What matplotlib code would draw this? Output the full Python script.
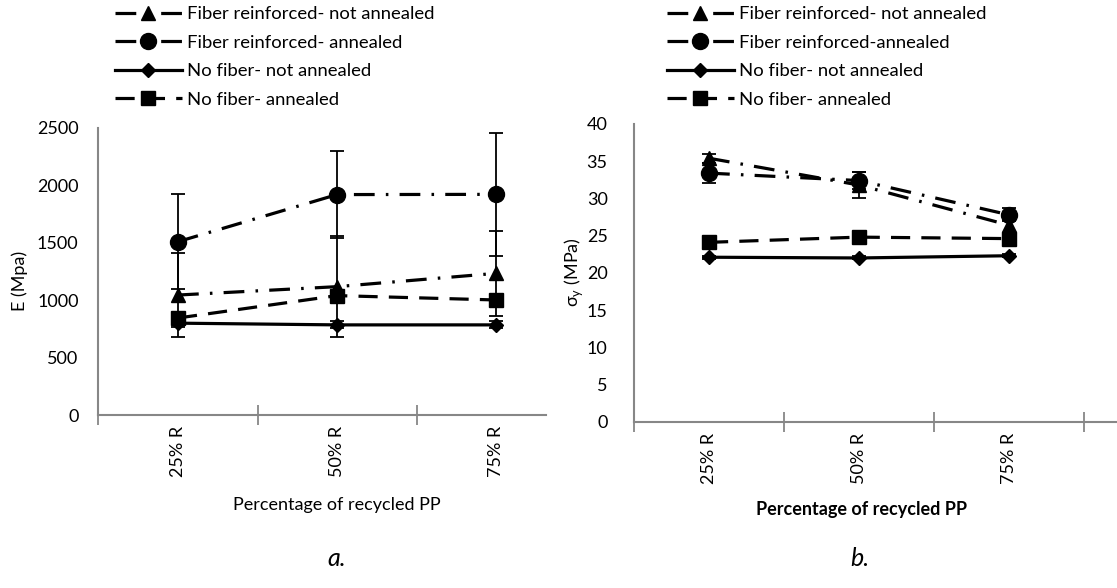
import matplotlib
matplotlib.use("Agg")
import matplotlib.pyplot as plt
import numpy as np

plt.rcParams['font.family'] = ['Lato', 'DejaVu Sans']
plt.rcParams['mathtext.fontset'] = 'custom'
plt.rcParams['mathtext.rm'] = 'Lato'

categories = ["25% R", "50% R", "75% R"]

labels_a = ["Fiber reinforced- not annealed", "Fiber reinforced- annealed",
            "No fiber- not annealed", "No fiber- annealed"]
labels_b = ["Fiber reinforced- not annealed", "Fiber reinforced-annealed",
            "No fiber- not annealed", "No fiber- annealed"]

# Chart a: Young's modulus E (MPa)
E_fr_not = [1045, 1118, 1234]
E_fr_not_err = [363, 440, 372]
E_fr_ann = [1510, 1920, 1922]
E_fr_ann_err = [415, 380, 535]
E_nf_not = [800, 785, 785]
E_nf_not_err = [30, 30, 30]
E_nf_ann = [845, 1040, 1002]
E_nf_ann_err = [40, 40, 40]

# Chart b: yield stress (MPa)
S_fr_not = [35.4, 31.8, 26.4]
S_fr_not_err = [0.6, 1.8, 1.0]
S_fr_ann = [33.4, 32.4, 27.8]
S_fr_ann_err = [1.3, 1.2, 0.9]
S_nf_not = [22.1, 22.0, 22.3]
S_nf_not_err = [0.2, 0.2, 0.2]
S_nf_ann = [24.1, 24.8, 24.6]
S_nf_ann_err = [0.3, 0.3, 0.3]

W, H = 1117, 588
fig = plt.figure(figsize=(W / 100, H / 100), dpi=100)

def px_axes(l, t, r, b):
    return fig.add_axes([l / W, 1 - b / H, (r - l) / W, (b - t) / H])

axa = px_axes(98, 128, 546, 415)
axb = px_axes(634, 124, 1117, 421.7)

LW = 2.3
ld_dot = (6.5, 3.5, 0.8, 3.5)
dash = (6.0, 3.5)

def draw(ax, series, styles, labels):
    x = np.arange(len(categories))
    handles = []
    for (vals, errs), (mk, ms, ls), lab in zip(series, styles, labels):
        ax.errorbar(x, vals, yerr=errs, fmt='none', ecolor='black',
                    elinewidth=1.3, capsize=5, capthick=1.3, zorder=2)
        if ls == 'solid':
            h, = ax.plot(x, vals, color='black', lw=LW, marker=mk, ms=ms,
                         zorder=3, label=lab)
        else:
            h, = ax.plot(x, vals, color='black', lw=LW, marker=mk, ms=ms,
                         linestyle=(0, ls), zorder=3, label=lab)
        handles.append(h)
    return handles

styles_a = [('^', 10, ld_dot), ('o', 11.5, ld_dot), ('D', 7, 'solid'), ('s', 10, dash)]
series_a = [(E_fr_not, E_fr_not_err), (E_fr_ann, E_fr_ann_err),
            (E_nf_not, E_nf_not_err), (E_nf_ann, E_nf_ann_err)]
ha = draw(axa, series_a, styles_a, labels_a)

styles_b = [('^', 10, ld_dot), ('o', 11.5, ld_dot), ('D', 7, 'solid'), ('s', 10, dash)]
series_b = [(S_fr_not, S_fr_not_err), (S_fr_ann, S_fr_ann_err),
            (S_nf_not, S_nf_not_err), (S_nf_ann, S_nf_ann_err)]
hb = draw(axb, series_b, styles_b, labels_b)

grey = '#878787'
FS = 13
for ax, xl, yl, yt in [(axa, (-0.503, 2.314), (0, 2500), np.arange(0, 2501, 500)),
                       (axb, (-0.5, 2.72), (0, 40), np.arange(0, 41, 5))]:
    ax.set_xlim(*xl)
    ax.set_ylim(*yl)
    ax.set_yticks(yt)
    ax.set_xticks(np.arange(len(categories)))
    ax.set_xticklabels(categories, rotation=90)
    ax.set_xticks(np.arange(-0.5, xl[1], 1.0), minor=True)
    ax.tick_params(axis='x', which='major', length=0, pad=8, labelsize=FS)
    ax.tick_params(axis='x', which='minor', length=14, direction='inout',
                   color=grey, width=1.3)
    ax.tick_params(axis='y', length=0, pad=14, labelsize=FS)
    for s in ['top', 'right']:
        ax.spines[s].set_visible(False)
    for s in ['left', 'bottom']:
        ax.spines[s].set_color(grey)
        ax.spines[s].set_linewidth(1.5)
    ax.patch.set_alpha(0)

axb.tick_params(axis='y', pad=19)

fig.text(20 / W, 1 - 281 / H, "E (Mpa)", rotation=90, ha='center', va='center', fontsize=FS)
fig.text(574 / W, 1 - 272 / H, r"σ$_{\mathregular{y}}$ (MPa)", rotation=90,
         ha='center', va='center', fontsize=FS)

fig.text(337 / W, 1 - 505 / H, "Percentage of recycled PP", ha='center', va='center', fontsize=FS)
fig.text(862 / W, 1 - 510 / H, "Percentage of recycled PP", ha='center', va='center',
         fontsize=FS, fontweight='bold')
fig.text(337 / W, 1 - 558 / H, "a.", ha='center', va='center', fontsize=18, style='italic')
fig.text(860 / W, 1 - 558 / H, "b.", ha='center', va='center', fontsize=18, style='italic')

leg_kw = dict(loc='upper left', frameon=False, fontsize=13.3, handlelength=3.6,
              handletextpad=0.3, labelspacing=0.68, borderpad=0, borderaxespad=0)
fig.legend(handles=ha, labels=labels_a, bbox_to_anchor=(115 / W, 1 - 6 / H), **leg_kw)
fig.legend(handles=hb, labels=labels_b, bbox_to_anchor=(667 / W, 1 - 6 / H), **leg_kw)

fig.savefig("out.png", dpi=100)
